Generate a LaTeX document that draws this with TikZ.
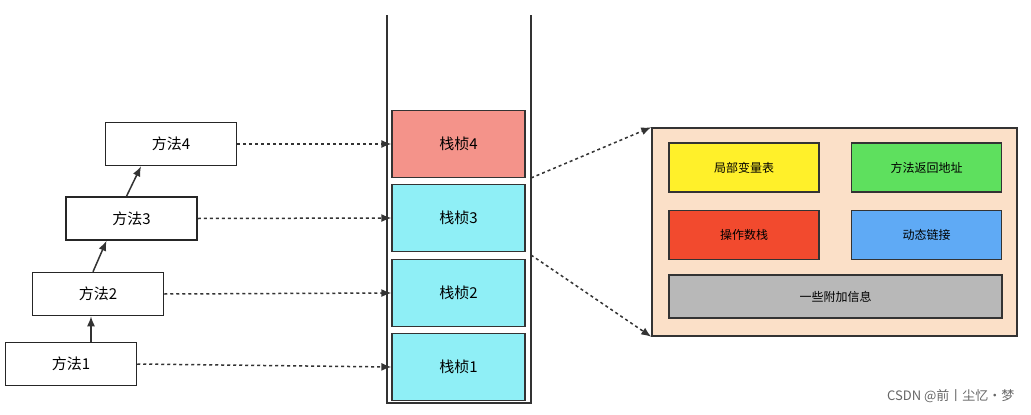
\documentclass[tikz,border=0pt]{standalone}
\usepackage{fontspec}
\setmainfont{Noto Sans CJK SC}
\usetikzlibrary{arrows.meta}
\definecolor{salmon}{HTML}{F4938A}
\definecolor{cyanf}{HTML}{8FEFF6}
\definecolor{peach}{HTML}{FBE0C8}
\definecolor{yel}{HTML}{FFF02A}
\definecolor{grn}{HTML}{5EE05E}
\definecolor{rd}{HTML}{F24A2E}
\definecolor{blu}{HTML}{5FAAF5}
\definecolor{gry}{HTML}{B8B8B8}
\tikzset{
 meth/.style={draw=black!85,line width=1.5pt,fill=white,minimum width=131pt,minimum height=43pt,font=\fontsize{15}{18}\selectfont},
 frm/.style={draw=black!80,line width=1.3pt,minimum width=133pt,minimum height=67pt,font=\fontsize{15}{18}\selectfont},
 inner/.style={draw=black!80,line width=1.2pt,minimum width=150pt,minimum height=49pt,font=\fontsize{12}{14}\selectfont},
 darr/.style={dashed,line width=1.5pt,draw=black!80,-{Latex[length=10pt,width=8pt]}},
 sarr/.style={line width=1.5pt,draw=black!80,-{Latex[length=10pt,width=8pt]}}
}
\begin{document}
\begin{tikzpicture}[x=1pt,y=-1pt]
\useasboundingbox (0,0) rectangle (1031,415);
% stack
\draw[line width=1.5pt,black!80] (387,15) -- (387,403) -- (531,403) -- (531,15);
\node[frm,fill=salmon] (f4) at (458.5,144) {栈桢4};
\node[frm,fill=cyanf] (f3) at (458.5,218) {栈桢3};
\node[frm,fill=cyanf] (f2) at (458.5,293) {栈桢2};
\node[frm,fill=cyanf] (f1) at (458.5,367) {栈桢1};
% methods
\node[meth] (m1) at (71,364) {方法1};
\node[meth] (m2) at (98,294) {方法2};
\node[meth] (m3) at (131.5,218.5) {方法3};
\node[meth] (m4) at (171,144) {方法4};
\draw[sarr] (m1.north) ++(20,0) coordinate (a1) -- (a1 |- m2.south);
\draw[sarr] (m2.north) ++(-5,0) coordinate (a2) -- ([xshift=-25pt]m3.south);
\draw[sarr] (m3.north) ++(-5,0) coordinate (a3) -- ([xshift=-30pt]m4.south);
\draw[darr] (m1.east) -- (f1.west);
\draw[darr] (m2.east) -- (f2.west);
\draw[darr] (m3.east) -- (f3.west);
\draw[darr] (m4.east) -- (f4.west);
% detail box
\node[draw=black!80,line width=1.5pt,fill=peach,minimum width=365pt,minimum height=208pt] (big) at (834.5,232) {};
\node[inner,fill=yel] (i1) at (744,167.5) {局部变量表};
\node[inner,fill=grn] (i2) at (926.5,167.5) {方法返回地址};
\node[inner,fill=rd] (i3) at (744,235) {操作数栈};
\node[inner,fill=blu] (i4) at (926.5,235) {动态链接};
\node[inner,fill=gry,minimum width=333pt,minimum height=43pt] (i5) at (835.5,296.5) {一些附加信息};
\coordinate (c1) at (531,178);
\coordinate (c2) at (531,255);
\draw[darr] (c1) -- (big.north west);
\draw[darr] (c2) -- (big.south west);
\node[text=black!60,font=\fontsize{13}{15}\selectfont,anchor=east] (wm) at (1018,396) {CSDN @前丨尘忆·梦};
\end{tikzpicture}
\end{document}
